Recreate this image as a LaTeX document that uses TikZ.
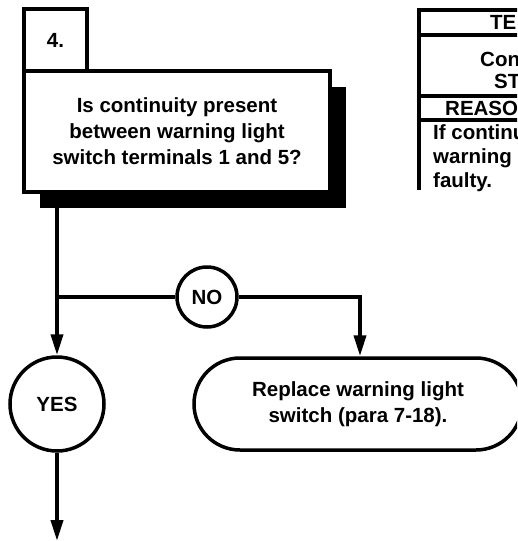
\documentclass[tikz,border=0pt]{standalone}
\usepackage{fontspec}
\setmainfont{Liberation Sans}
\usetikzlibrary{positioning,calc,shapes.misc,shadows,arrows.meta}

\begin{document}
\begin{tikzpicture}[
    x=1pt, y=-1pt,
    every node/.style={font=\bfseries\fontsize{20.5}{26}\selectfont},
    block/.style={
        draw,
        line width=3.5pt,
        fill=white,
        align=center,
        inner sep=2pt
    },
    answer/.style={draw, circle, line width=3.5pt, fill=white, inner sep=0pt},
    link/.style={line width=3.8pt},
    arrow/.style={line width=3.8pt, -{Triangle[length=21pt,width=12pt]}},
    tabline/.style={line width=4.5pt},
    tabtext/.style={inner sep=0pt, anchor=west, align=left}
]
\useasboundingbox (0,0) rectangle (517,541);
\clip (0,0) rectangle (517,541);

% step box
\node[block, minimum width=63pt, minimum height=62pt] (stepno) at (55.5,40) {4.};

\node[block, minimum width=306pt, minimum height=121pt,
      general shadow={fill=black, shadow xshift=16pt, shadow yshift=-16pt}] (question) at (177,131.5)
    {Is continuity present\\between warning light\\switch terminals 1 and 5?};

% answers
\node[answer, minimum size=60pt] (no) at (207,297) {NO};
\node[answer, minimum size=94pt] (yes) at (57,404) {YES};

\node[block, rounded rectangle, minimum width=332pt, minimum height=92pt] (replace) at (358,404)
    {Replace warning light\\switch (para 7-18).};

\coordinate (split) at (57,297);
\coordinate (exit) at (57,541);

% connectors
\draw[link] (split |- question.south) -- (split);
\draw[link] (split) -- (no.west);
\draw[arrow] (split) -- (yes.north);
\draw[arrow] (no.east) -| ([xshift=2pt]replace.north);
\draw[arrow] (yes.south) -- (exit);

% table on the right
\draw[tabline] (419,8) -- (419,190);
\draw[tabline] (417,10) -- (530,10);
\draw[tabline] (417,35) -- (530,35);
\draw[tabline] (417,96) -- (530,96);
\draw[tabline] (417,120) -- (530,120);

\node[tabtext] (tabhead) at (490,22) {TE};
\node[tabtext] (tabcheck) at (480,59) {Con};
\node[tabtext] (tabstep) at (494,81) {ST};
\node[tabtext] (tabreason) at (445,108) {REASO};
\node[tabtext, font=\bfseries\fontsize{20.5}{24}\selectfont] (tabnote) at (433,158)
    {If continu\\warning\\faulty.};
\end{tikzpicture}
\end{document}
